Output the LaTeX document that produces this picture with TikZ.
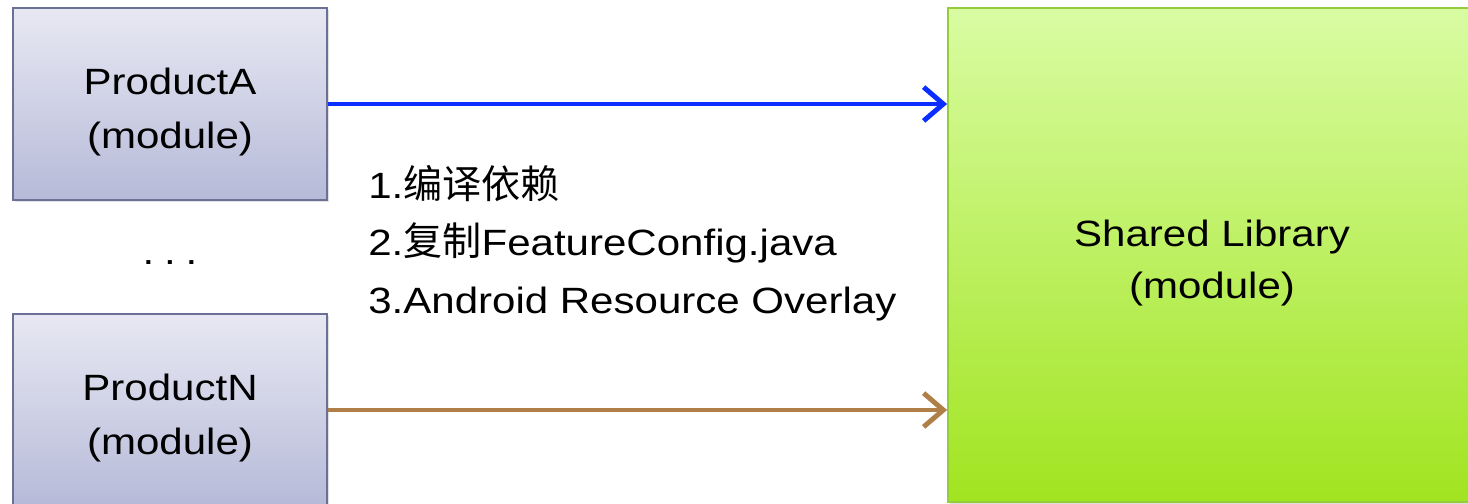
\documentclass[tikz,border=0pt]{standalone}
\usepackage{fontspec}
\setmainfont{Liberation Sans}[FakeStretch=1.15]
\newfontfamily\cjk{Noto Sans CJK SC}[Scale=1.07]
\usetikzlibrary{arrows.meta,shadows}
\definecolor{prodtop}{HTML}{E8E8F3}
\definecolor{prodbot}{HTML}{B6BAD8}
\definecolor{prodline}{HTML}{6B7096}
\definecolor{libtop}{HTML}{D9FCA3}
\definecolor{libbot}{HTML}{A1E420}
\definecolor{libline}{HTML}{95CC3A}
\definecolor{linkA}{HTML}{0A2EFF}
\definecolor{linkN}{HTML}{B07F48}
\newcommand{\boxpad}{\rule{0pt}{30pt}}
\tikzset{
  product/.style={draw=prodline, line width=1.2pt, top color=prodtop,
    bottom color=prodbot, minimum width=7.85cm, minimum height=4.8cm,
    align=center, font=\fontsize{26}{38}\selectfont,
    drop shadow={opacity=0.25, shadow xshift=1.5pt, shadow yshift=-1.5pt}},
  library/.style={draw=libline, line width=1.2pt, top color=libtop,
    bottom color=libbot, minimum width=13.2cm, minimum height=12.35cm,
    align=center, font=\fontsize{26}{37}\selectfont,
    drop shadow={opacity=0.25, shadow xshift=1.5pt, shadow yshift=-1.5pt}},
  link/.style={line width=3.5pt, -{Straight Barb[length=14pt, width=24pt, line width=3.5pt]}}
}
\begin{document}
\begin{tikzpicture}[x=0.025cm, y=-0.025cm]
  \useasboundingbox (0,0) rectangle (1468,504);
  \node[product] (prodA) at (170,104) {\boxpad ProductA\\(module)};
  \node[product] (prodN) at (170,410) {\boxpad ProductN\\(module)};
  \node[font=\fontsize{26}{30}\selectfont, anchor=base] (dots) at (170,265)
    {.\hspace{7pt}.\hspace{7pt}.};
  \node[library] (shared) at (1212,255) {\boxpad Shared Library\\(module)};
  \node[anchor=west, align=left, inner sep=0pt,
    font=\fontsize{26}{41}\selectfont] (steps) at (368,243)
    {1.{\cjk 编译依赖}\\2.{\cjk 复制}FeatureConfig.java\\3.Android Resource Overlay};
  \begin{scope}
    \draw[link, linkA] (prodA.east) -- (prodA.east -| shared.west);
    \draw[link, linkN] (prodN.east) -- (prodN.east -| shared.west);
  \end{scope}
\end{tikzpicture}
\end{document}
